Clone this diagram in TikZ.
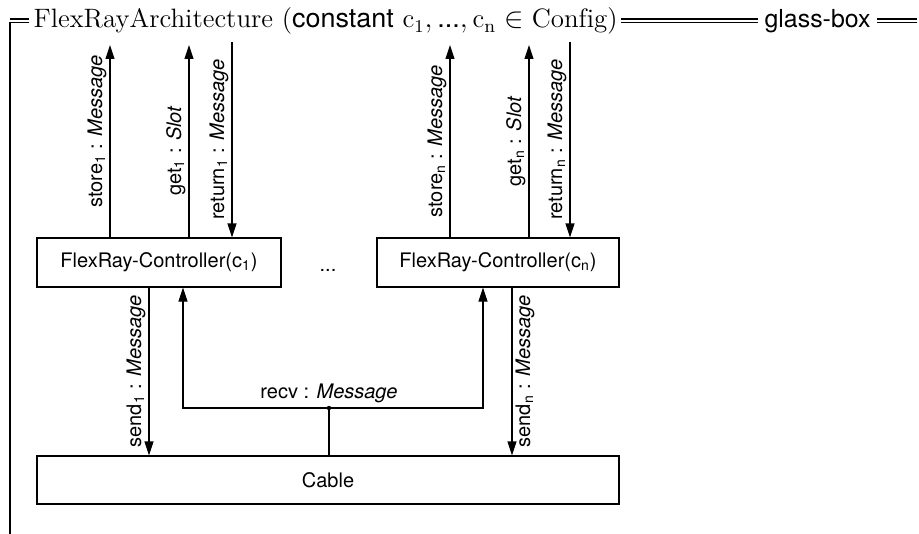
\documentclass[tikz,border=0pt]{standalone}
\usepackage{fontspec}
\setsansfont{TeX Gyre Heros}
\usepackage{graphicx}
\usetikzlibrary{arrows.meta}

\tikzset{
  box/.style={draw, rectangle, minimum height=24.5pt, inner sep=2pt},
  arr/.style={-{Triangle[length=7pt, width=4.5pt]}},
  port/.style={rotate=90, inner sep=1.5pt},
}

\begin{document}
\begin{tikzpicture}[x=0.5pt, y=-0.5pt, line width=0.55pt, font=\sffamily]
\useasboundingbox (0,0) rectangle (919,534);

% frame
\draw (10,534) -- (10,22.5) -- (29,22.5);
\draw (10,19) -- (29,19);
\foreach \y in {19,22.5}{
  \draw (621,\y) -- (758,\y);
  \draw (877,\y) -- (917,\y);
}
\node[anchor=base west, inner sep=0pt, font=\fontsize{13.3}{16}\rmfamily] (title) at (33,28)
  {\resizebox{292pt}{\height}{FlexRayArchitecture (\textsf{constant} $\mathrm{c}_1, \textsf{...}, \mathrm{c}_\mathrm{n} \in \mathrm{Config}$)}};
\node[anchor=base west, inner sep=0pt, font=\fontsize{12.4}{15}\sffamily] (glass) at (764,28) {\resizebox{53pt}{\height}{glass-box}};

% components
\node[box, minimum width=122pt] (ctrl1) at (159,262.5) {FlexRay-Controller(c\textsubscript{1})};
\node[box, minimum width=121pt] (ctrln) at (498,262.5) {FlexRay-Controller(c\textsubscript{n})};
\node[anchor=base] (dots) at (328,271) {...};
\node[box, minimum width=291pt, minimum height=24pt] (cable) at (328,480) {Cable};

% outer ports
\coordinate (store1) at (110,45);
\coordinate (get1) at (189,45);
\coordinate (return1) at (232,42);
\coordinate (storen) at (450,45);
\coordinate (getn) at (529,45);
\coordinate (returnn) at (570,42);
\draw[arr] (store1 |- ctrl1.north) -- node[port, anchor=south, pos=.55]{store\textsubscript{1} : \textit{Message}} (store1);
\draw[arr] (get1 |- ctrl1.north) -- node[port, anchor=south, pos=.45]{get\textsubscript{1} : \textit{Slot}} (get1);
\draw[arr] (return1) -- node[port, anchor=south]{return\textsubscript{1} : \textit{Message}} (return1 |- ctrl1.north);
\draw[arr] (storen |- ctrln.north) -- node[port, anchor=south]{store\textsubscript{n} : \textit{Message}} (storen);
\draw[arr] (getn |- ctrln.north) -- node[port, anchor=south]{get\textsubscript{n} : \textit{Slot}} (getn);
\draw[arr] (returnn) -- node[port, anchor=south]{return\textsubscript{n} : \textit{Message}} (returnn |- ctrln.north);

% bus
\draw[arr] ([xshift=-5pt]ctrl1.south) -- node[port, anchor=south]{send\textsubscript{1} : \textit{Message}} ([xshift=-5pt]ctrl1.south |- cable.north);
\draw[arr] ([xshift=7pt]ctrln.south) -- node[port, anchor=north]{send\textsubscript{n} : \textit{Message}} ([xshift=7pt]ctrln.south |- cable.north);
\coordinate (fork) at (329,408);
\draw (cable.north -| fork) -- (fork);
\draw[arr] (fork) -| ([xshift=12pt]ctrl1.south);
\draw[arr] (fork) -| ([xshift=-7.5pt]ctrln.south);
\fill (fork) circle (1.1pt);
\node[above, inner sep=2.5pt] (recv) at (fork) {recv : \textit{Message}};
\end{tikzpicture}
\end{document}
